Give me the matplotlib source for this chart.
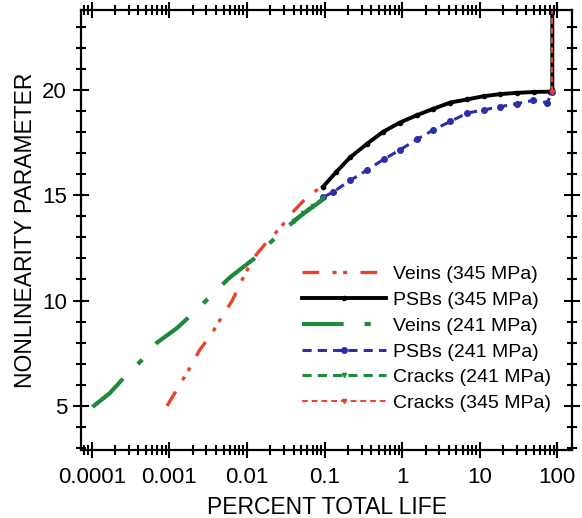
import numpy as np
import matplotlib.pyplot as plt
from matplotlib.ticker import LogLocator, FixedLocator, FixedFormatter, MultipleLocator

plt.rcParams['font.family'] = ['Liberation Sans', 'DejaVu Sans']

# Veins (345 MPa) - red
veins345_x = 10 ** np.array([-3.03, -2.89, -2.76, -2.61, -2.45, -2.31, -2.19, -2.06,
                             -1.92, -1.74, -1.57, -1.41, -1.23, -1.02])
veins345_y = [5.0, 5.85, 6.65, 7.65, 8.45, 9.3, 10.0, 11.0, 12.0, 12.8, 13.45, 14.2, 14.9, 15.45]

# PSBs (345 MPa) - black
psb345_x = 10 ** np.array([-1.02, -0.85, -0.67, -0.45, -0.25, -0.03, 0.19, 0.40, 0.62,
                           0.84, 1.05, 1.26, 1.48, 1.70, 1.91, 1.935, 1.935])
psb345_y = [15.4, 16.1, 16.8, 17.45, 18.0, 18.45, 18.8, 19.1, 19.4, 19.55, 19.7, 19.8,
            19.86, 19.9, 19.92, 20.0, 24.0]

# Veins (241 MPa) - green
veins241_x = 10 ** np.array([-3.99, -3.77, -3.57, -3.32, -3.16, -2.90, -2.65, -2.39,
                             -2.22, -1.87, -1.70, -1.48, -1.28, -1.02])
veins241_y = [4.95, 5.6, 6.4, 7.3, 8.0, 8.7, 9.55, 10.5, 11.1, 12.1, 12.75, 13.5, 14.1, 14.8]

# PSBs (241 MPa) - blue
psb241_x = 10 ** np.array([-1.02, -0.89, -0.67, -0.45, -0.24, -0.03, 0.19, 0.40, 0.62,
                           0.84, 1.05, 1.26, 1.48, 1.69, 1.87, 1.935])
psb241_y = [14.9, 15.15, 15.7, 16.2, 16.7, 17.15, 17.65, 18.1, 18.5, 18.9, 19.05, 19.2,
            19.35, 19.5, 19.4, 19.9]

# Cracks (241 MPa) - green
cracks241_x = 10 ** np.array([-1.40, -1.28, -1.15, -1.02])
cracks241_y = [13.8, 14.15, 14.5, 14.85]

# Cracks (345 MPa) - red
cracks345_x = 10 ** np.array([1.935, 1.935])
cracks345_y = [19.9, 24.0]

fig = plt.figure(figsize=(5.82, 5.18), dpi=100)
ax = fig.add_axes([0.139, 0.131, 0.844, 0.850])

ax.plot(veins345_x, veins345_y, color='#e8432a', lw=2.4, dashes=(5, 4, 1.2, 2, 1.2, 4),
        label='Veins (345 MPa)')
ax.plot(psb345_x, psb345_y, color='black', lw=2.8, marker='o', ms=3,
        label='PSBs (345 MPa)')
ax.plot(veins241_x, veins241_y, color='#1f8a3a', lw=3.0, dashes=(10, 5, 1.5, 5),
        label='Veins (241 MPa)')
ax.plot(psb241_x, psb241_y, color='#2b2fa8', lw=2.2, dashes=(3, 2), marker='o', ms=4,
        label='PSBs (241 MPa)')
ax.plot(cracks241_x, cracks241_y, color='#1f8a3a', lw=2.2, dashes=(3, 2), marker='v', ms=3,
        label='Cracks (241 MPa)')
ax.plot(cracks345_x, cracks345_y, color='#e8432a', lw=1.4, dashes=(3, 2), marker='v', ms=3,
        label='Cracks (345 MPa)')

ax.set_xscale('log')
ax.set_xlim(10 ** -4.14, 10 ** 2.19)
ax.set_ylim(2.9, 23.8)

ax.xaxis.set_major_locator(FixedLocator([1e-4, 1e-3, 1e-2, 1e-1, 1, 10, 100]))
ax.xaxis.set_major_formatter(FixedFormatter(['0.0001', '0.001', '0.01', '0.1', '1', '10', '100']))
ax.xaxis.set_minor_locator(LogLocator(base=10, subs=np.arange(2, 10), numticks=20))
ax.yaxis.set_major_locator(FixedLocator([5, 10, 15, 20]))
ax.yaxis.set_minor_locator(MultipleLocator(1))

ax.tick_params(which='both', direction='inout', top=True, right=True, width=1.5, labelsize=16)
ax.tick_params(which='major', length=12)
ax.tick_params(which='minor', length=7)
ax.tick_params(axis='x', which='major', pad=6)
ax.tick_params(axis='y', which='major', pad=4)
for sp in ax.spines.values():
    sp.set_linewidth(1.6)

ax.set_xlabel('PERCENT TOTAL LIFE', fontsize=16.5, labelpad=6)
ax.set_ylabel('NONLINEARITY PARAMETER', fontsize=16.5, labelpad=12)
ax.yaxis.set_label_coords(-0.09, 0.5)

leg = ax.legend(loc='lower right', frameon=False, fontsize=14, handlelength=4.3,
                handletextpad=0.35, labelspacing=0.42, borderaxespad=0.2,
                bbox_to_anchor=(0.98, 0.06))

plt.savefig('out.png', dpi=100)
